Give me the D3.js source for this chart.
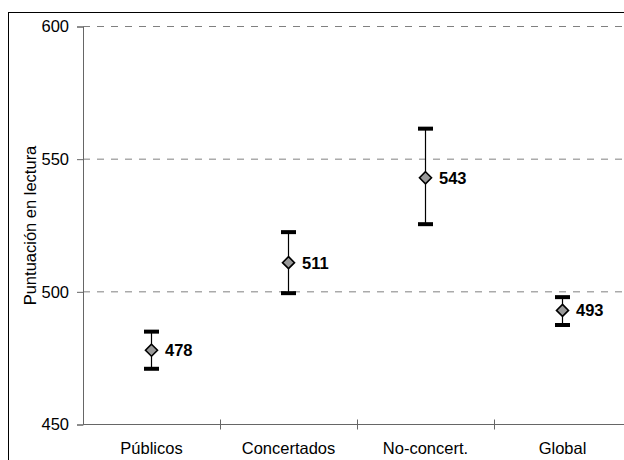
<!DOCTYPE html>
<html>
<head>
<meta charset="utf-8">
<script src="https://cdn.jsdelivr.net/npm/d3@7"></script>
<style>
  html, body { margin: 0; padding: 0; background: #fff; overflow: hidden; }
  svg { display: block; font-family: "Liberation Sans", Arial, sans-serif; }
</style>
</head>
<body>
<svg id="chart" width="624" height="460"></svg>
<script>
// Reading scores by school type, with confidence intervals
const categories = ["Públicos", "Concertados", "No-concert.", "Global"];
const means = [478, 511, 543, 493];
const lower = [471, 499.5, 525.5, 487.5];
const upper = [485, 522.5, 561.5, 498];
const yTicks = [450, 500, 550, 600];
const yLabel = "Puntuación en lectura";

const svg = d3.select("#chart");
const margin = { left: 83, top: 26.5 };
const plotW = 548, plotH = 398;

// outer frame
svg.append("rect")
  .attr("x", 8.5).attr("y", 12.5)
  .attr("width", 640).attr("height", 480)
  .attr("fill", "none").attr("stroke", "#000").attr("stroke-width", 1);

const x = d3.scaleBand().domain(categories).range([margin.left, margin.left + plotW]).padding(0);
const y = d3.scaleLinear().domain([450, 600]).range([margin.top + plotH, margin.top]);

// dashed gridlines
svg.append("g").selectAll("line")
  .data(yTicks.filter(t => t > 450))
  .join("line")
  .attr("x1", margin.left).attr("x2", margin.left + plotW)
  .attr("y1", d => y(d)).attr("y2", d => y(d))
  .attr("stroke", "#808080").attr("stroke-width", 1)
  .attr("stroke-dasharray", "7,7");

// y axis
const yAxis = svg.append("g")
  .attr("transform", `translate(${margin.left},0)`)
  .call(d3.axisLeft(y).tickValues(yTicks).tickSize(6).tickPadding(8).tickFormat(d3.format("d")));
yAxis.select(".domain").attr("stroke", "#666");
yAxis.selectAll(".tick line").attr("stroke", "#666");
yAxis.selectAll(".tick text").attr("font-size", 16.5).attr("fill", "#000")
  .attr("font-family", "Liberation Sans, Arial, sans-serif");

// x axis line and category separators
const xg = svg.append("g");
xg.append("line")
  .attr("x1", margin.left).attr("x2", margin.left + plotW)
  .attr("y1", y(450)).attr("y2", y(450))
  .attr("stroke", "#666").attr("stroke-width", 1);
xg.selectAll(".sep")
  .data(categories.slice(1))
  .join("line")
  .attr("class", "sep")
  .attr("x1", d => Math.round(x(d)) + 0.5).attr("x2", d => Math.round(x(d)) + 0.5)
  .attr("y1", y(450) - 5).attr("y2", y(450) + 5)
  .attr("stroke", "#666");
xg.selectAll(".lab")
  .data(categories)
  .join("text")
  .attr("class", "lab")
  .attr("x", d => x(d) + x.bandwidth() / 2)
  .attr("y", y(450) + 29)
  .attr("text-anchor", "middle")
  .attr("font-size", 16.5)
  .text(d => d);

// y axis title
svg.append("text")
  .attr("transform", `translate(36,${margin.top + plotH / 2}) rotate(-90)`)
  .attr("text-anchor", "middle")
  .attr("font-size", 16.5)
  .text(yLabel);

// error bars
const rows = categories.map((c, i) => ({ c, m: means[i], lo: lower[i], hi: upper[i] }));
const cx = d => x(d.c) + x.bandwidth() / 2;
const marks = svg.append("g");
marks.selectAll(".whisker")
  .data(rows).join("line")
  .attr("x1", cx).attr("x2", cx)
  .attr("y1", d => y(d.lo)).attr("y2", d => y(d.hi))
  .attr("stroke", "#000").attr("stroke-width", 1.2);
["lo", "hi"].forEach(k => {
  marks.selectAll(".cap-" + k)
    .data(rows).join("line")
    .attr("x1", d => cx(d) - 7.5).attr("x2", d => cx(d) + 7.5)
    .attr("y1", d => y(d[k])).attr("y2", d => y(d[k]))
    .attr("stroke", "#000").attr("stroke-width", 4);
});

// diamonds
const diamond = d3.symbol().type(d3.symbolDiamond2).size(92);
marks.selectAll(".pt")
  .data(rows).join("path")
  .attr("d", diamond)
  .attr("transform", d => `translate(${cx(d)},${y(d.m)})`)
  .attr("fill", "#999").attr("stroke", "#000").attr("stroke-width", 1.6);

// value labels
marks.selectAll(".val")
  .data(rows).join("text")
  .attr("x", d => cx(d) + 13.5)
  .attr("y", d => y(d.m) + 6)
  .attr("font-size", 16.5).attr("font-weight", "bold")
  .text(d => d.m);
</script>
</body>
</html>
